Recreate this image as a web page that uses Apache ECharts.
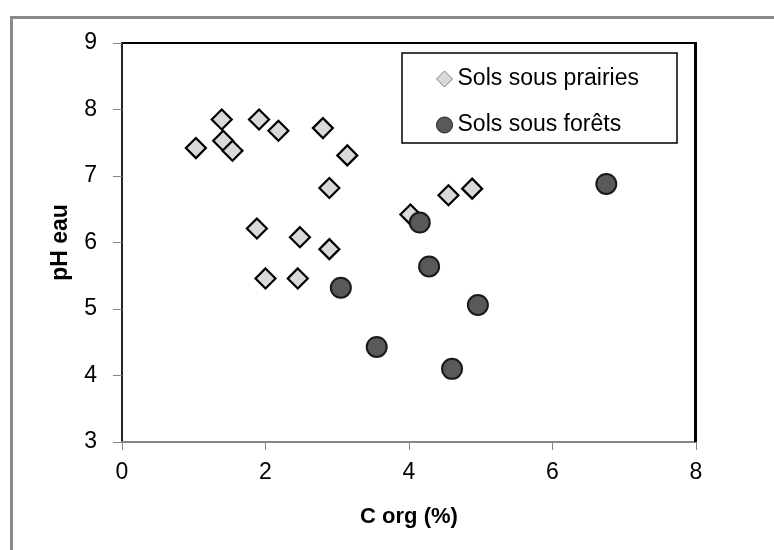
<!DOCTYPE html>
<html>
<head>
<meta charset="utf-8">
<script src="https://cdn.jsdelivr.net/npm/echarts@6/dist/echarts.min.js"></script>
<style>
html,body{margin:0;padding:0;background:#fff;}
#chart{width:774px;height:550px;}
</style>
</head>
<body>
<div id="chart"></div>
<script>
var seriesNames = ['Sols sous prairies', 'Sols sous forêts'];
var xTicks = [0, 2, 4, 6, 8];
var yTicks = [3, 4, 5, 6, 7, 8, 9];
var prairieX = [1.03, 1.39, 1.41, 1.54, 1.91, 2.18, 2.80, 3.14, 2.89, 4.55, 4.88, 4.02, 1.88, 2.48, 2.89, 2.00, 2.45];
var prairieY = [7.42, 7.85, 7.53, 7.38, 7.85, 7.68, 7.72, 7.31, 6.82, 6.71, 6.81, 6.42, 6.21, 6.08, 5.90, 5.46, 5.46];
var foretX = [4.15, 4.28, 3.05, 4.96, 3.55, 4.60, 6.75];
var foretY = [6.30, 5.64, 5.32, 5.06, 4.43, 4.10, 6.88];

function pairs(xs, ys){ return xs.map(function(v,i){ return [v, ys[i]]; }); }

var FONT = '"Liberation Sans", Arial, sans-serif';
var chart = echarts.init(document.getElementById('chart'), null, {renderer:'canvas'});
chart.setOption({
  animation: false,
  backgroundColor: '#fff',
  grid: {left: 122, top: 43, width: 574, height: 399, show: true, borderColor: '#000', borderWidth: 2, backgroundColor: 'transparent'},
  xAxis: {
    type: 'value', min: xTicks[0], max: xTicks[xTicks.length-1], interval: 2,
    name: 'C org (%)', nameLocation: 'middle', nameGap: 64,
    nameTextStyle: {fontFamily: FONT, fontWeight: 'bold', fontSize: 22, color: '#000'},
    axisLine: {show: true, onZero: false, lineStyle: {color: '#858585', width: 2}},
    axisTick: {show: true, length: 8, lineStyle: {color: '#858585', width: 1}},
    axisLabel: {margin: 19, fontFamily: FONT, fontSize: 23, color: '#000'},
    splitLine: {show: false}
  },
  yAxis: {
    type: 'value', min: yTicks[0], max: yTicks[yTicks.length-1], interval: 1,
    name: 'pH eau', nameLocation: 'middle', nameGap: 50, nameRotate: 90,
    nameTextStyle: {fontFamily: FONT, fontWeight: 'bold', fontSize: 23, color: '#000'},
    axisLine: {show: true, onZero: false, lineStyle: {color: '#303030', width: 1.5}},
    axisTick: {show: true, length: 9, lineStyle: {color: '#858585', width: 1}},
    axisLabel: {margin: 25, fontFamily: FONT, fontSize: 23, color: '#000'},
    splitLine: {show: false}
  },
  legend: {
    orient: 'vertical', left: 436, top: 67, itemGap: 22, itemWidth: 16, itemHeight: 16,
    padding: 0,
    textStyle: {fontFamily: FONT, fontSize: 23, color: '#000', lineHeight: 24},
    data: [
      {name: seriesNames[0], icon: 'diamond', itemStyle: {color: '#d9d9d9', borderColor: '#7f7f7f', borderWidth: 1}},
      {name: seriesNames[1], icon: 'circle', itemStyle: {color: '#595959', borderColor: '#222', borderWidth: 1}}
    ]
  },
  graphic: [
    {type: 'rect', left: 9, top: 15, shape: {x: 0, y: 0, width: 800, height: 600}, style: {fill: 'none', stroke: '#8a8a8a', lineWidth: 3}, z: -1},
    {type: 'rect', shape: {x: 402, y: 53, width: 275, height: 90}, style: {fill: '#fff', stroke: '#000', lineWidth: 1.5}, z: 1},
    {type: 'line', shape: {x1: 695.5, y1: 42, x2: 695.5, y2: 442}, style: {stroke: '#000', lineWidth: 3}, z: 5}
  ],
  series: [
    {name: seriesNames[0], type: 'scatter', symbol: 'diamond', symbolSize: 20,
     itemStyle: {color: '#d9d9d9', borderColor: '#000', borderWidth: 2.2, opacity: 1},
     data: pairs(prairieX, prairieY), z: 3},
    {name: seriesNames[1], type: 'scatter', symbol: 'circle', symbolSize: 20,
     itemStyle: {color: '#595959', borderColor: '#1a1a1a', borderWidth: 2, opacity: 1},
     data: pairs(foretX, foretY), z: 4}
  ]
});
</script>
</body>
</html>
